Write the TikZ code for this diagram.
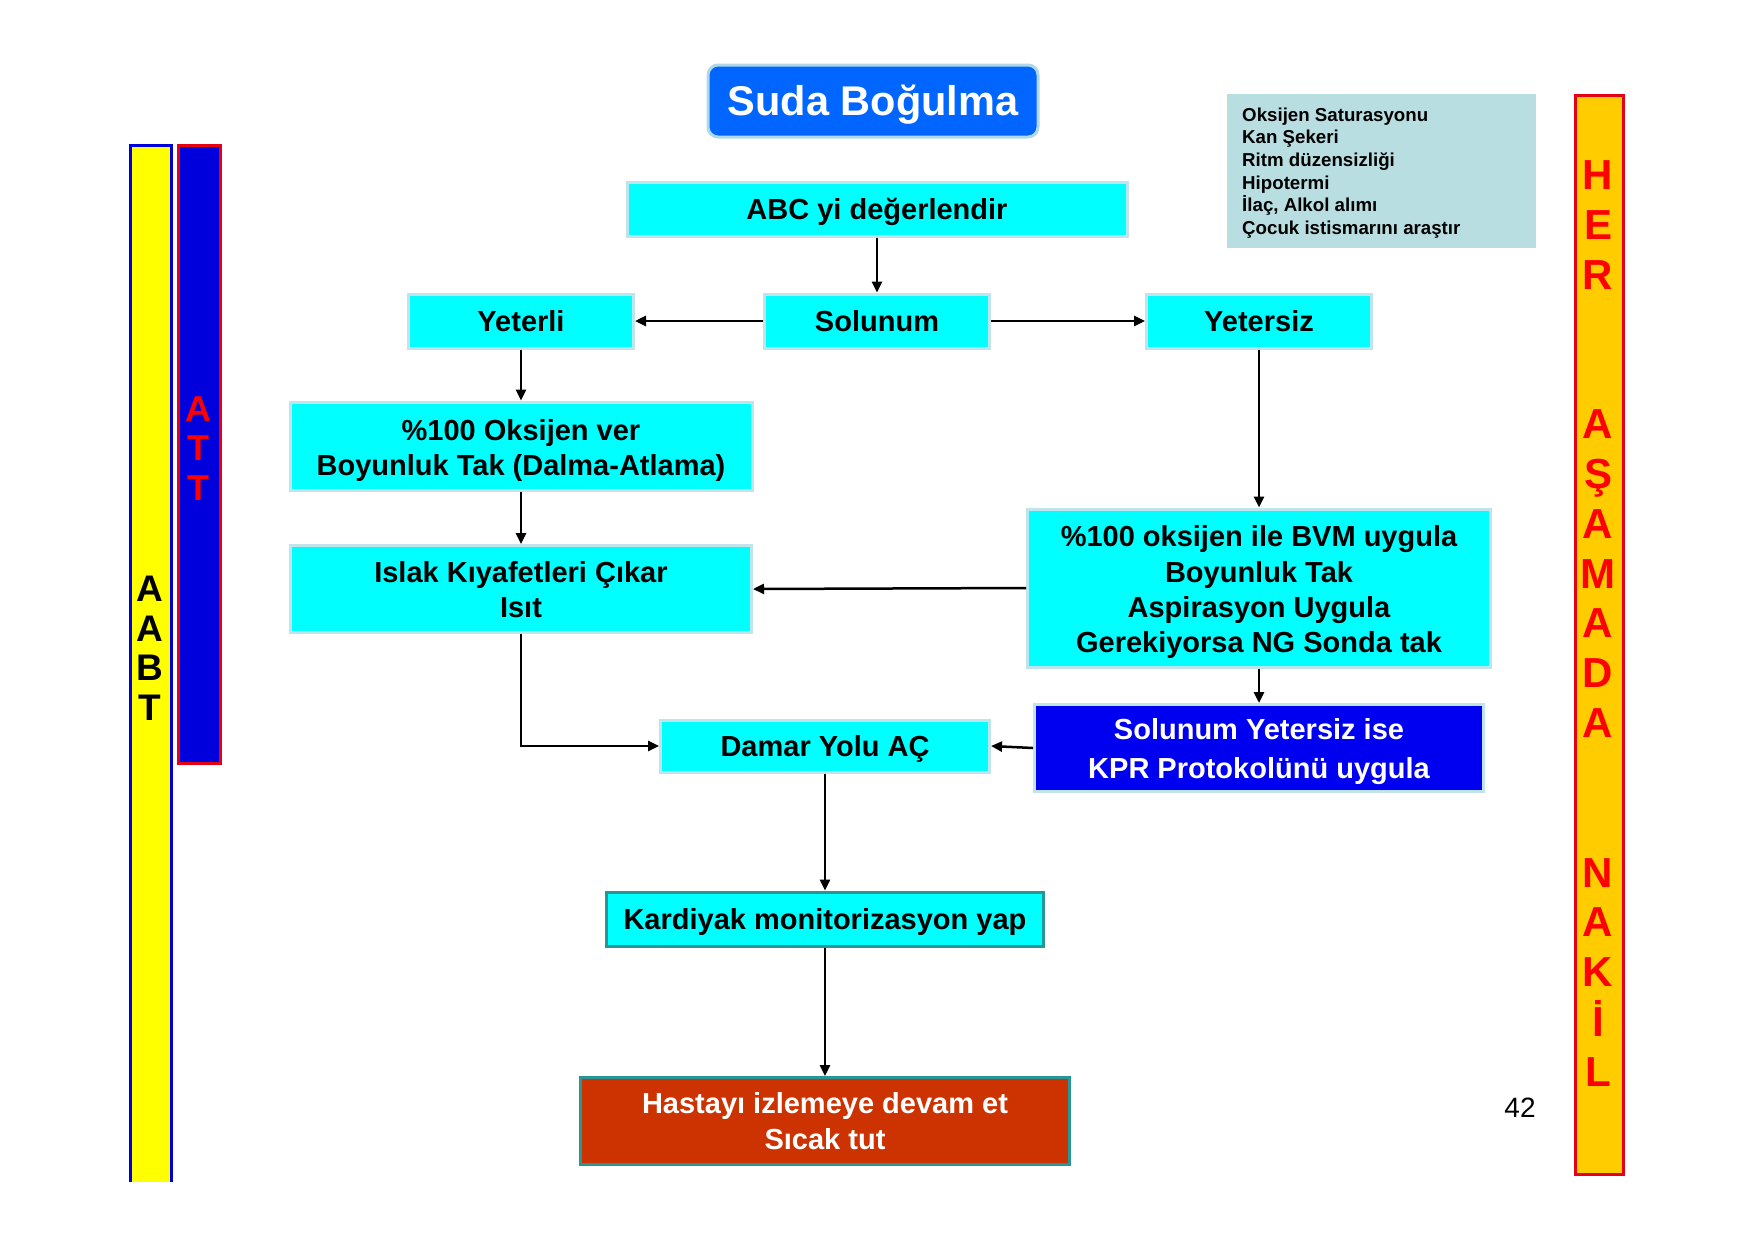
\documentclass[tikz,border=0pt]{standalone}
\usepackage{fontspec}
\setmainfont{Liberation Sans}
\usetikzlibrary{arrows.meta}
\definecolor{cyanf}{RGB}{0,255,255}
\definecolor{cbord}{RGB}{192,228,236}
\definecolor{titleb}{RGB}{0,102,255}
\definecolor{titlebord}{RGB}{176,216,232}
\definecolor{infob}{RGB}{184,222,226}
\definecolor{kprb}{RGB}{0,0,240}
\definecolor{hastab}{RGB}{204,51,0}
\definecolor{tealb}{RGB}{40,150,150}
\definecolor{barorange}{RGB}{255,204,0}
\definecolor{barred}{RGB}{230,0,20}
\definecolor{baryellow}{RGB}{255,255,0}
\definecolor{barblue}{RGB}{0,0,220}
\newcommand\topstr{\rule{0pt}{0.905em}}
\newcommand\botstr{\rule[-0.212em]{0pt}{0.212em}}
\newcommand\hstr[1]{\rule{0pt}{#1pt}}
\begin{document}
\begin{tikzpicture}[x=1pt,y=-1pt,
  pptext/.style={execute at begin node=\topstr, execute at end node=\botstr},
  cbox/.style={draw=cbord, line width=3pt, fill=cyanf, inner sep=0pt, align=center, pptext,
    font=\fontsize{29}{35}\selectfont\bfseries},
  arr/.style={-{Triangle[length=11pt,width=10pt]}, line width=2.5pt},
  barletters/.style={inner sep=0pt, align=center, font=\bfseries}]
\useasboundingbox (0,0) rectangle (1755,1240);
\fill[white] (0,0) rectangle (1755,1240);

% side bars
\fill[baryellow] (130,145) rectangle (171,1182);
\draw[draw=barblue, line width=3pt] (130,1182) -- (130,145) -- (171,145) -- (171,1182);
\draw[draw=barred, line width=3pt, fill=barblue] (178,145) rectangle (220,763);
\draw[draw=barred, line width=3pt, fill=barorange] (1575,95) rectangle (1623,1174);
\node[barletters, font=\fontsize{37}{39.5}\selectfont\bfseries] (aabt) at (150,648.5) {A\\A\\B\\T};
\node[barletters, text=red, font=\fontsize{36}{39.5}\selectfont\bfseries] (att) at (198,448.5) {A\\T\\T};
\node[barletters, text=red, font=\fontsize{42}{49.83}\selectfont\bfseries] (her) at (1598,623.5)
  {H\\E\\R\\\mbox{}\\\mbox{}\\A\\Ş\\A\\M\\A\\D\\A\\\mbox{}\\\mbox{}\\N\\A\\K\\İ\\L};

% title
\node[draw=titlebord, line width=3pt, fill=titleb, rounded corners=10pt, text=white,
  minimum width=330pt, minimum height=72pt, inner sep=0pt, pptext,
  font=\fontsize{41.5}{48}\selectfont\bfseries] (title) at (873,101) {Suda Boğulma};

% info box
\node[fill=infob, minimum width=309pt, minimum height=154pt, inner sep=0pt, anchor=north west] (info) at (1227,94) {};
\node[anchor=west, align=left, inner sep=0pt, font=\fontsize{18.7}{22.6}\selectfont\bfseries] (infotext) at (1242,173)
  {Oksijen Saturasyonu\\Kan Şekeri\\Ritm düzensizliği\\Hipotermi\\İlaç, Alkol alımı\\Çocuk istismarını araştır};

% flow boxes
\node[cbox, minimum width=500pt, minimum height=54pt] (abc) at (877,209) {ABC yi değerlendir};
\node[cbox, minimum width=225pt, minimum height=54pt] (sol) at (877,321) {Solunum};
\node[cbox, minimum width=225pt, minimum height=54pt] (yeterli) at (521,321) {Yeterli};
\node[cbox, minimum width=225pt, minimum height=54pt] (yetersiz) at (1259,321) {Yetersiz};
\node[cbox, minimum width=462pt, minimum height=88pt] (oks) at (521,446)
  {\hstr{30.5}\%100 Oksijen ver\\Boyunluk Tak (Dalma-Atlama)\botstr};
\node[cbox, minimum width=461pt, minimum height=87pt] (islak) at (521,589)
  {\hstr{28}Islak Kıyafetleri Çıkar\\Isıt\botstr};
\node[cbox, minimum width=463pt, minimum height=158pt, font=\fontsize{29}{35.3}\selectfont\bfseries] (bvm) at (1259,588)
  {\hstr{29.5}\%100 oksijen ile BVM uygula\\Boyunluk Tak\\Aspirasyon Uygula\\Gerekiyorsa NG Sonda tak\botstr};
\node[cbox, fill=kprb, text=white, minimum width=449pt, minimum height=87pt, font=\fontsize{29}{38.3}\selectfont\bfseries] (kpr) at (1259,748)
  {\hstr{28}Solunum Yetersiz ise\\KPR Protokolünü uygula\botstr};
\node[cbox, minimum width=329pt, minimum height=52pt] (damar) at (825,746) {Damar Yolu AÇ};
\node[cbox, draw=tealb, minimum width=437pt, minimum height=54pt] (kard) at (825,919) {Kardiyak monitorizasyon yap};
\node[cbox, draw=tealb, fill=hastab, text=white, minimum width=489pt, minimum height=87pt, font=\fontsize{29}{35.5}\selectfont\bfseries] (hasta) at (825,1121)
  {\hstr{27.5}Hastayı izlemeye devam et\\Sıcak tut\botstr};

\node[inner sep=0pt, font=\fontsize{28}{32}\selectfont] (pg) at (1520,1108) {42};

% connectors
\draw[arr] (abc) -- (sol);
\draw[arr] (sol) -- (yeterli);
\draw[arr] (sol) -- (yetersiz);
\draw[arr] (yeterli) -- (oks);
\draw[arr] (oks) -- (islak);
\draw[arr] (yetersiz) -- (bvm);
\draw[arr] (bvm.west) -- (islak.east);
\draw[arr] (bvm) -- (kpr);
\draw[arr] (kpr.west) -- (damar.east);
\draw[arr] (islak.south) |- (damar.west);
\draw[arr] (damar) -- (kard);
\draw[arr] (kard) -- (hasta);
\end{tikzpicture}
\end{document}
